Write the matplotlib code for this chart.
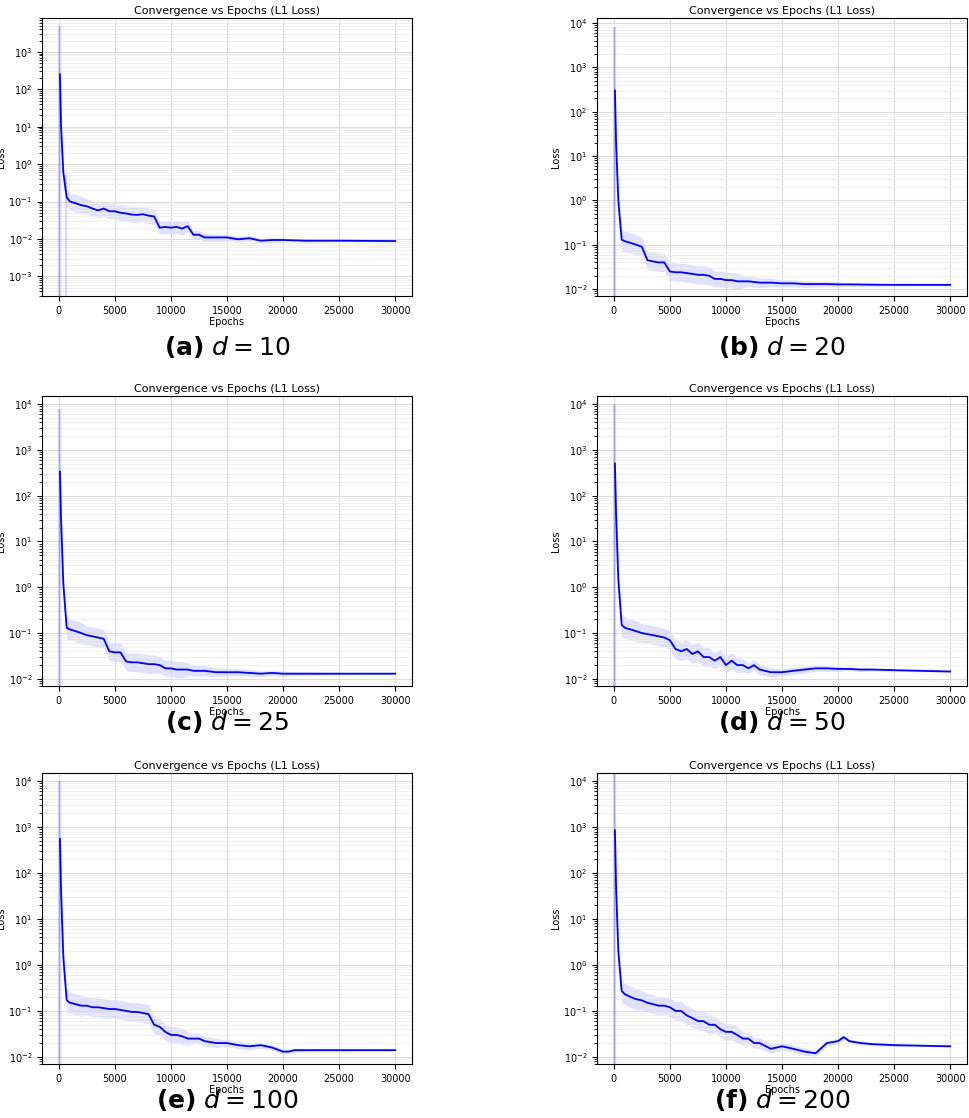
import numpy as np
import matplotlib
matplotlib.use("Agg")
import matplotlib.pyplot as plt

# ── Data ────────────────────────────────────────────────────────────────────
EPOCHS = [100, 200, 400, 700, 1000, 1500, 2000, 2500, 3000, 3500, 4000, 4500,
          5000, 5500, 6000, 6500, 7000, 7500, 8000, 8500, 9000, 9500, 10000,
          10500, 11000, 11500, 12000, 12500, 13000, 14000, 15000, 16000, 17000,
          18000, 19000, 20000, 20500, 21000, 22000, 23000, 25000, 27500, 30000]

LOSS_D10 = [250, 10, 0.6, 0.13, 0.1, 0.09, 0.08, 0.075, 0.065, 0.058, 0.065, 0.055,
            0.055, 0.05, 0.048, 0.045, 0.044, 0.046, 0.042, 0.04, 0.02, 0.021, 0.02,
            0.021, 0.019, 0.022, 0.013, 0.013, 0.011, 0.011, 0.011, 0.0098, 0.0105,
            0.009, 0.0094, 0.0094, 0.0093, 0.0092, 0.009, 0.009, 0.009, 0.0089, 0.0088]
LOSS_D20 = [300, 20, 1.0, 0.13, 0.12, 0.11, 0.1, 0.09, 0.045, 0.042, 0.04, 0.04,
            0.025, 0.024, 0.024, 0.023, 0.022, 0.021, 0.021, 0.02, 0.017, 0.017, 0.016,
            0.016, 0.015, 0.015, 0.015, 0.0145, 0.014, 0.014, 0.0135, 0.0135, 0.013,
            0.013, 0.013, 0.0128, 0.0128, 0.0128, 0.0127, 0.0126, 0.0125, 0.0125, 0.0125]
LOSS_D25 = [330, 30, 1.2, 0.13, 0.12, 0.11, 0.1, 0.09, 0.085, 0.08, 0.075, 0.04,
            0.038, 0.038, 0.024, 0.023, 0.023, 0.022, 0.021, 0.021, 0.02, 0.017, 0.017,
            0.016, 0.016, 0.016, 0.015, 0.015, 0.015, 0.014, 0.014, 0.014, 0.0135,
            0.013, 0.0135, 0.013, 0.013, 0.013, 0.013, 0.013, 0.013, 0.013, 0.013]
LOSS_D50 = [500, 40, 1.5, 0.15, 0.13, 0.12, 0.11, 0.1, 0.095, 0.09, 0.085, 0.08,
            0.07, 0.045, 0.04, 0.045, 0.035, 0.04, 0.03, 0.03, 0.025, 0.03, 0.02,
            0.025, 0.02, 0.02, 0.017, 0.02, 0.016, 0.014, 0.014, 0.015, 0.016,
            0.017, 0.017, 0.0165, 0.0165, 0.0165, 0.016, 0.016, 0.0155, 0.015, 0.0145]
LOSS_D100 = [550, 40, 1.5, 0.17, 0.15, 0.14, 0.13, 0.13, 0.12, 0.12, 0.115, 0.11,
             0.11, 0.105, 0.1, 0.095, 0.095, 0.09, 0.085, 0.05, 0.045, 0.035, 0.03,
             0.03, 0.028, 0.025, 0.025, 0.025, 0.022, 0.02, 0.02, 0.018, 0.017,
             0.018, 0.016, 0.013, 0.013, 0.014, 0.014, 0.014, 0.014, 0.014, 0.014]
LOSS_D200 = [850, 50, 2.0, 0.27, 0.23, 0.2, 0.18, 0.17, 0.15, 0.14, 0.13, 0.13,
             0.12, 0.1, 0.1, 0.08, 0.07, 0.06, 0.06, 0.05, 0.05, 0.04, 0.035,
             0.035, 0.03, 0.025, 0.025, 0.02, 0.02, 0.015, 0.017, 0.015, 0.013,
             0.012, 0.02, 0.022, 0.027, 0.022, 0.02, 0.019, 0.018, 0.0175, 0.017]

# spread (ratio) of the light band around the mean curve
SPREAD = [3, 3, 2, 1.8, 1.7, 1.7, 1.7, 1.6, 1.6, 1.6, 1.6, 1.6, 1.6, 1.6, 1.6,
          1.6, 1.6, 1.6, 1.6, 1.6, 1.5, 1.5, 1.5, 1.5, 1.5, 1.4, 1.3, 1.3, 1.3,
          1.25, 1.2, 1.2, 1.2, 1.15, 1.15, 1.15, 1.1, 1.1, 1.1, 1.08, 1.06, 1.05, 1.05]

DIMS = [10, 20, 25, 50, 100, 200]
LETTERS = ["a", "b", "c", "d", "e", "f"]
SPIKE_TOP = [5000, 8000, 8000, 10000, 10000, 15000]
Y_LOW = [3e-4, 7e-3, 7e-3, 7e-3, 7e-3, 7e-3]
Y_HIGH = [8e3, 1.3e4, 1.5e4, 1.5e4, 1.5e4, 1.5e4]
LOSSES = [LOSS_D10, LOSS_D20, LOSS_D25, LOSS_D50, LOSS_D100, LOSS_D200]

# ── Layout (pixels) ─────────────────────────────────────────────────────────
fig = plt.figure(figsize=(9.7, 11.18), dpi=100)
W, H = 970, 1118
lefts = [42, 597]
ax_w = 370
tops = [18, 396, 773]
bottoms = [296, 686, 1064]
caption_y = [347, 722, 1100]

x = np.array(EPOCHS)
spread = np.array(SPREAD)
for i, (d, letter, loss) in enumerate(zip(DIMS, LETTERS, LOSSES)):
    row, col = divmod(i, 2)
    l, t, b = lefts[col], tops[row], bottoms[row]
    ax = fig.add_axes([l / W, 1 - b / H, ax_w / W, (b - t) / H])
    y = np.array(loss)
    ax.fill_between(x, y / spread, y * spread, color="blue", alpha=0.12, lw=0)
    ax.vlines([60, 120], Y_LOW[i], SPIKE_TOP[i], color="blue", alpha=0.15, lw=1.5)
    if i == 0:
        ax.vlines([600], Y_LOW[i], 0.5, color="blue", alpha=0.15, lw=1.5)
    ax.plot(x, y, color="blue", lw=1.3)
    ax.set_yscale("log")
    ax.set_ylim(Y_LOW[i], Y_HIGH[i])
    ax.set_xlim(-1500, 31500)
    ax.set_xticks(range(0, 30001, 5000))
    ax.grid(True, which="major", color="#dddddd", lw=0.8)
    ax.grid(True, which="minor", color="#eeeeee", lw=0.6)
    ax.tick_params(labelsize=7)
    ax.set_title("Convergence vs Epochs (L1 Loss)", fontsize=8, pad=3)
    ax.set_xlabel("Epochs", fontsize=7, labelpad=1)
    ax.set_ylabel("Loss", fontsize=7, labelpad=2)
    cx = (l + ax_w / 2) / W
    fig.text(cx, 1 - caption_y[row] / H, rf"$\bf{{({letter})}}$ $d = {d}$",
             fontsize=18, ha="center", va="center")

fig.savefig("out.png", dpi=100)
